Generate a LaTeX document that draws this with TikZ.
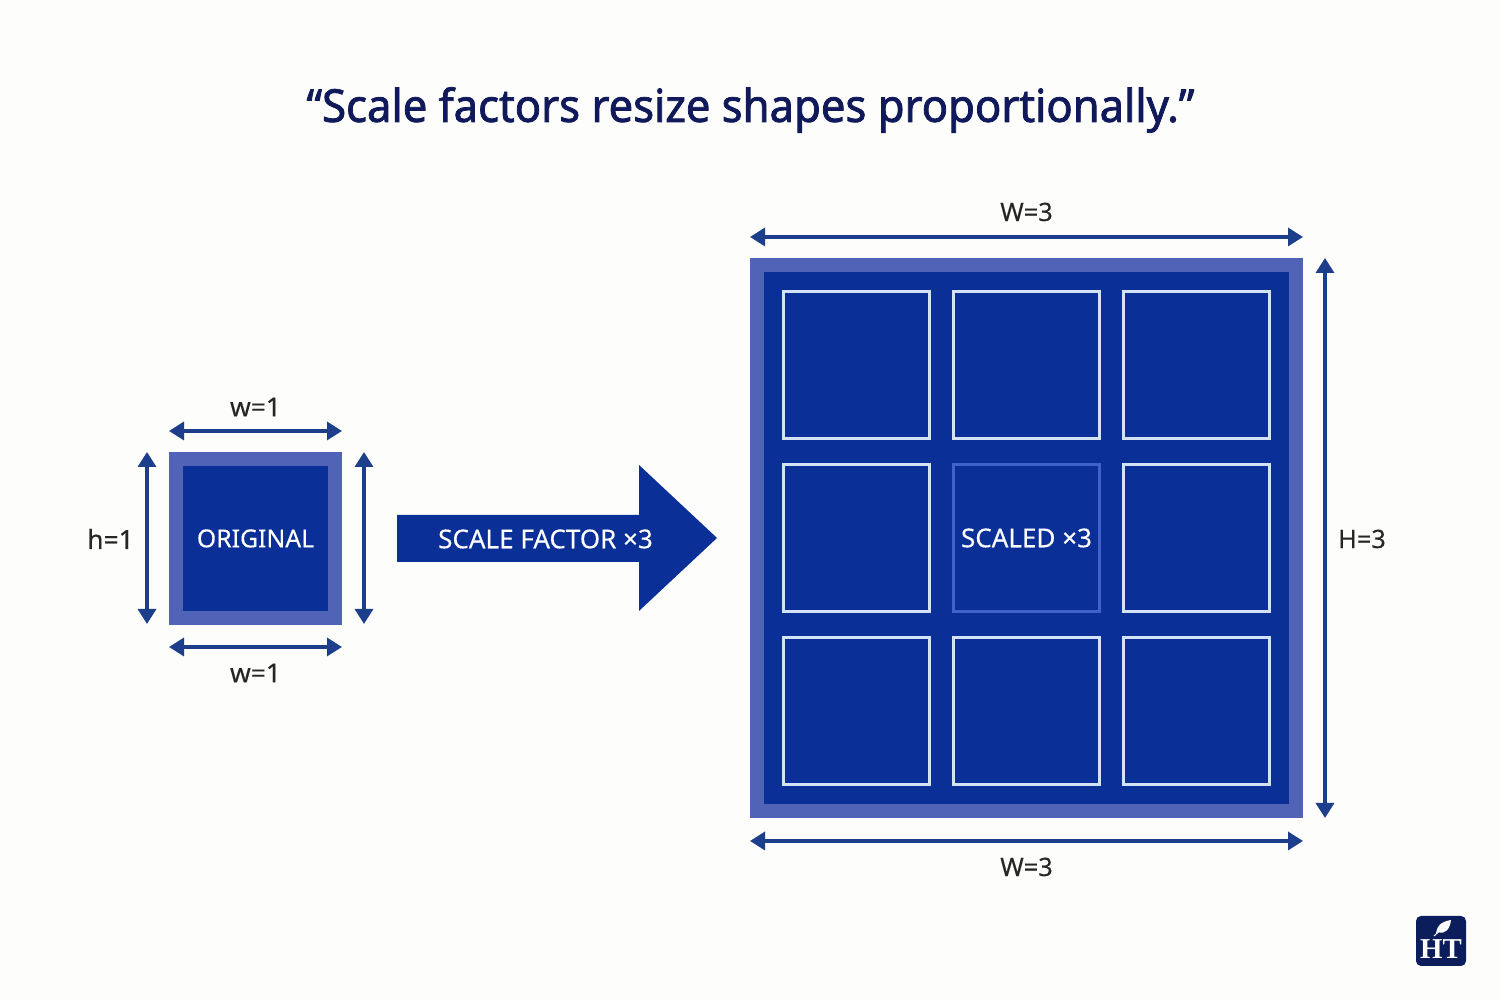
\documentclass[tikz,border=0pt]{standalone}
\usepackage{fontspec}
\setmainfont{Noto Sans}[FakeBold=0.25]
\newfontfamily\titlefont{Noto Sans}[FakeBold=1.7,FakeStretch=0.962]
\newfontfamily\logofont{Liberation Serif}
\usetikzlibrary{arrows.meta}
\definecolor{paper}{HTML}{FDFDFB}
\definecolor{deepblue}{HTML}{0A2F96}
\definecolor{rimblue}{HTML}{5063B6}
\definecolor{dimblue}{HTML}{1D3F8B}
\definecolor{titleblue}{HTML}{10195A}
\definecolor{gridline}{HTML}{D3E2F6}
\definecolor{midline}{HTML}{3F63C9}
\definecolor{logoblue}{HTML}{0C1D5C}
\tikzset{
	dimline/.style={draw=dimblue, line width=0.95pt, {Triangle[length=0.15cm,width=0.18cm]}-{Triangle[length=0.15cm,width=0.18cm]}},
	dimlabel/.style={font=\fontsize{7.2}{9}\selectfont, text=black!85, inner sep=0pt},
	smalllabel/.style={dimlabel, font=\fontsize{7.5}{9}\selectfont},
	bluetext/.style={font=\fontsize{7.4}{9}\selectfont, text=white, inner sep=0pt},
	rimbox/.style={draw=rimblue, fill=deepblue, line width=0.14cm, inner sep=0pt},
	cellbox/.style={draw=gridline, line width=0.8pt, minimum size=1.465cm, inner sep=0pt},
}
\begin{document}
\begin{tikzpicture}
	\useasboundingbox[fill=paper] (0,0) rectangle (15,10);
	\node[font=\titlefont\fontsize{12.9}{15}\selectfont, text=titleblue, inner sep=0pt] (title) at (7.505,8.90) {“Scale factors resize shapes proportionally.”};

	% original square
	\node[rimbox, minimum size=1.59cm, bluetext, font=\fontsize{7.05}{9}\selectfont] (original) at (2.555,4.615) {ORIGINAL};
	\coordinate (topL) at (1.69,5.69);
	\coordinate (topR) at (3.42,5.69);
	\coordinate (botL) at (1.69,3.53);
	\coordinate (botR) at (3.42,3.53);
	\coordinate (leftT) at (1.47,5.48);
	\coordinate (leftB) at (1.47,3.76);
	\coordinate (rightT) at (3.64,5.48);
	\coordinate (rightB) at (3.64,3.76);
	\draw[dimline] (topL) -- (topR);
	\draw[dimline] (botL) -- (botR);
	\draw[dimline] (leftT) -- (leftB);
	\draw[dimline] (rightT) -- (rightB);
	\node[smalllabel] (wTop) at (2.555,5.93) {w=1};
	\node[smalllabel] (wBot) at (2.555,3.27) {w=1};
	\node[smalllabel] (hLeft) at (1.105,4.61) {h=1};

	% scale arrow
	\fill[deepblue] (3.97,4.85) -- (6.39,4.85) -- (6.39,5.35) -- (7.17,4.62) -- (6.39,3.89) -- (6.39,4.38) -- (3.97,4.38) -- cycle;
	\node[bluetext] (factor) at (5.455,4.61) {SCALE FACTOR ×3};

	% scaled square
	\node[rimbox, minimum width=5.39cm, minimum height=5.46cm] (scaled) at (10.265,4.62) {};
	\foreach \cname/\cx/\cy in {a/8.565/6.35,b/10.265/6.35,c/11.965/6.35,d/8.565/4.62,f/11.965/4.62,g/8.565/2.89,h/10.265/2.89,i/11.965/2.89}
		\node[cellbox] (cell\cname) at (\cx,\cy) {};
	\node[cellbox, draw=midline, bluetext] (celle) at (10.265,4.62) {\raisebox{-0.3pt}{SCALED ×3}};
	\coordinate (capL) at (7.50,7.63);
	\coordinate (capR) at (13.03,7.63);
	\coordinate (baseL) at (7.50,1.59);
	\coordinate (baseR) at (13.03,1.59);
	\coordinate (sideT) at (13.25,7.42);
	\coordinate (sideB) at (13.25,1.82);
	\draw[dimline] (capL) -- (capR);
	\draw[dimline] (baseL) -- (baseR);
	\draw[dimline] (sideT) -- (sideB);
	\node[dimlabel] (wCap) at (10.265,7.88) {W=3};
	\node[dimlabel] (wBase) at (10.265,1.33) {W=3};
	\node[dimlabel] (hSide) at (13.62,4.61) {H=3};

	% logo
	\node[fill=logoblue, rounded corners=0.05cm, minimum size=0.5cm, inner sep=0pt] (logo) at (14.41,0.59) {};
	\fill[white] (14.36,0.66) .. controls (14.37,0.77) and (14.45,0.79) .. (14.51,0.80) .. controls (14.50,0.71) and (14.45,0.65) .. (14.38,0.68) -- cycle;
	\draw[white, line width=0.3pt] (14.34,0.64) -- (14.44,0.73);
	\node[font=\logofont\fontsize{8.2}{9}\selectfont\bfseries, text=white, inner sep=0pt] (logotext) at (14.41,0.51) {HT};
\end{tikzpicture}
\end{document}
